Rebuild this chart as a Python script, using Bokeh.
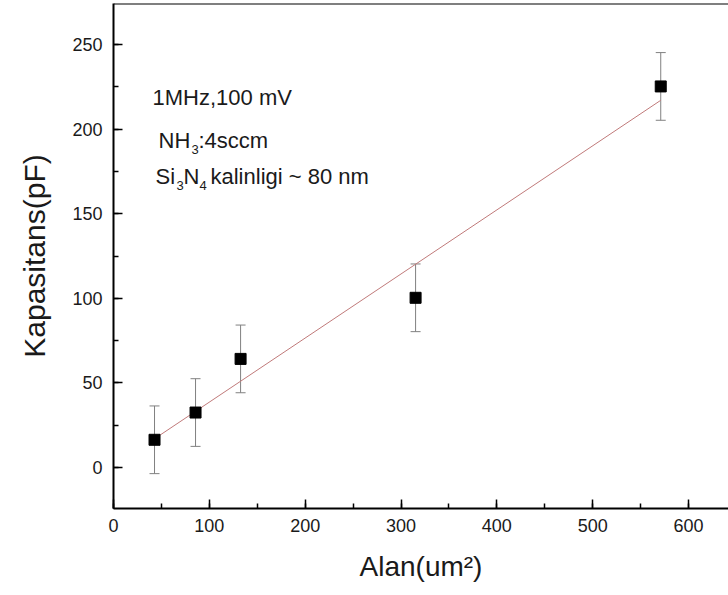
from bokeh.plotting import figure
from bokeh.models import Range1d, SingleIntervalTicker, ColumnDataSource, Whisker, TeeHead, Label, Span
from bokeh.embed import file_html
from bokeh.resources import INLINE

# ---- data ----
area = [42.8, 85.6, 132.6, 315.2, 571.0]          # Alan (um^2)
capacitance = [16.4, 32.5, 64.2, 100.3, 225.2]    # Kapasitans (pF)
cap_err = [20, 20, 20, 20, 20]
fit_x = [42.8, 571.0]                              # linear fit end points
fit_y = [17.0, 217.0]

x_ticks_interval = 100
y_ticks_interval = 50

# ---- geometry ----
W, H = 728, 595
L, T, B, R = 113, 3, 87, 0
X0, X1 = 0, 641.7
Y0, Y1 = -24.2, 274.2

FONT = "Liberation Sans"
TXT = "#1a1a1a"

p = figure(width=W, height=H, output_backend="svg", toolbar_location=None,
           x_range=Range1d(X0, X1), y_range=Range1d(Y0, Y1),
           min_border_left=L, min_border_right=R, min_border_top=T, min_border_bottom=B)
p.background_fill_color = "white"
p.border_fill_color = "white"
p.xgrid.visible = False
p.ygrid.visible = False
p.outline_line_color = None

for ax, interval in ((p.xaxis[0], x_ticks_interval), (p.yaxis[0], y_ticks_interval)):
    ax.ticker = SingleIntervalTicker(interval=interval, num_minor_ticks=2)
    ax.axis_line_width = 2
    ax.axis_line_color = "black"
    ax.major_tick_in = 9
    ax.major_tick_out = 0
    ax.minor_tick_in = 5
    ax.minor_tick_out = 0
    ax.major_tick_line_width = 1.5
    ax.minor_tick_line_width = 1.5
    ax.major_label_text_font = FONT
    ax.major_label_text_font_size = "18px"
    ax.major_label_text_color = TXT
    ax.axis_label_text_font = FONT
    ax.axis_label_text_font_style = "normal"
    ax.axis_label_text_color = TXT

p.xaxis.major_label_standoff = 10
p.yaxis.major_label_standoff = 11
p.xaxis.axis_label = "Alan(um²)"
p.yaxis.axis_label = "Kapasitans(pF)"
p.xaxis.axis_label_text_font_size = "28px"
p.yaxis.axis_label_text_font_size = "30px"
p.xaxis.axis_label_standoff = 16
p.yaxis.axis_label_standoff = 18

# top frame line (the right side is cut off in the reference)
p.add_layout(Span(location=Y1, dimension="width", line_color="black", line_width=2))

upper = [c + e for c, e in zip(capacitance, cap_err)]
lower = [c - e for c, e in zip(capacitance, cap_err)]
src = ColumnDataSource(dict(x=area, y=capacitance, upper=upper, lower=lower))

wh = Whisker(base="x", upper="upper", lower="lower", source=src, dimension="height",
             line_color="#808080", line_width=1,
             upper_head=TeeHead(size=10, line_color="#808080", line_width=1),
             lower_head=TeeHead(size=10, line_color="#808080", line_width=1))
wh.level = "underlay"
p.add_layout(wh)

p.line(fit_x, fit_y, line_color="#c07a7a", line_width=1)
p.scatter("x", "y", source=src, marker="square", size=11, fill_color="black", line_color="black")

# ---- annotations (pixel positions converted to data units) ----
fw, fh = W - L - R, H - T - B
def dx(px):
    return X0 + (px - L) / fw * (X1 - X0)
def dy(py):
    return Y1 - (py - T) / fh * (Y1 - Y0)

def lab(text, px, py, size):
    p.add_layout(Label(x=dx(px), y=dy(py), text=text, text_font=FONT,
                       text_font_size=size, text_color=TXT,
                       text_align="left", text_baseline="alphabetic"))

MAIN = "22px"
SUB = "13px"
lab("1MHz,100 mV", 152, 97, MAIN)
lab("NH", 158, 140, MAIN)
lab("3", 191, 149, SUB)
lab(":4sccm", 198, 140, MAIN)
lab("Si", 155, 176, MAIN)
lab("3", 176, 185, SUB)
lab("N", 183, 176, MAIN)
lab("4", 199, 185, SUB)
lab("kalinligi ~ 80 nm", 210, 176, MAIN)

open("out.html", "w").write(file_html(p, INLINE))
